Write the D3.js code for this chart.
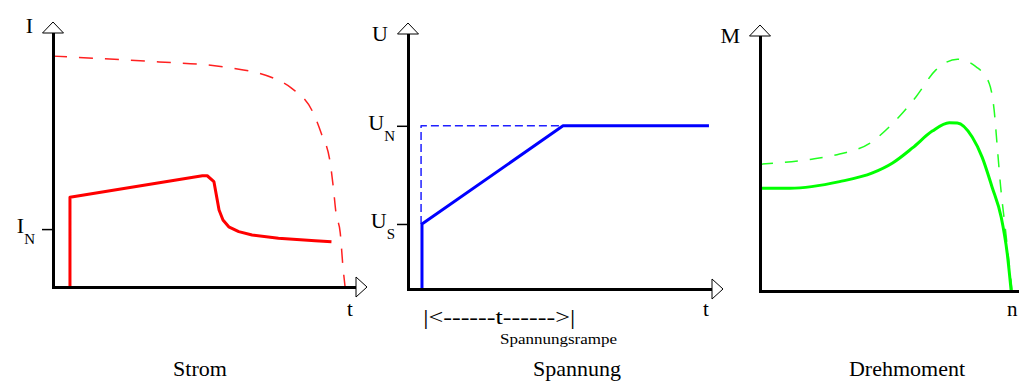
<!DOCTYPE html>
<html>
<head>
<meta charset="utf-8">
<script src="https://cdn.jsdelivr.net/npm/d3@7"></script>
<style>
  body { margin: 0; background: #fff; }
  text { font-family: "Liberation Serif", "Times New Roman", serif; fill: #000; }
</style>
</head>
<body>
<svg id="chart" width="1019" height="381"></svg>
<script>
// --- data (all panels use 0..100 on both axes) ---

// Strom: current with soft starter (solid) and direct start (dashed)
var stromSanft = [[5.6,0],[5.6,35.3],[49.3,43.8],[50.9,43.8],[53.1,41.5],[54.2,34.3],[54.8,30.3],
                  [56.1,26.4],[58,23.7],[61.3,21.8],[65.7,20.5],[74.4,19.2],[86.5,18.2],[91.9,17.8]];
var stromDirekt = [[0,90.9],[35,88.6],[54,87],[73.4,81.9],[78.7,78.3],[85.9,68.5],[88.5,60.6],
                   [91.5,48.8],[92.5,39.4],[93.4,29.1],[94.8,21.3],[95.7,7.9],[96.4,0]];
var stromTicks = [{v: 22.8, main: "I", sub: "N"}];

// Spannung: voltage ramp (solid) and direct (dashed)
var spannungRampe = [[4.6,0],[4.6,25.5],[51,64],[99,64]];
var spannungDirekt = [[4.3,25.5],[4.3,64],[51,64]];
var spannungTicks = [{v: 64, main: "U", sub: "N"}, {v: 25.5, main: "U", sub: "S"}];
var rampeVonBis = [5, 55];

// Drehmoment: torque over speed
var momentSanft = [[0,40.3],[11.5,40.3],[30.5,42.9],[43.1,46.3],[50.8,50.2],[58.4,56.1],[66,62.7],
                   [72.5,66],[75.6,65.9],[81.3,60.4],[85.1,52.5],[88.9,40.8],[92.4,29],[94.7,14.9],[96.2,0.4]];
var momentDirekt = [[0,49.7],[19.1,51.6],[30.5,53.7],[42,57.9],[50.9,65.8],[59.8,76.2],[67.4,86.7],
                    [75.7,90.9],[82.7,88],[87.8,81.5],[89.7,71],[91,55.3],[92.2,40.9],[94.2,22.6],[96.6,0]];
var momentTicks = [];

var titles = ["Strom", "Spannung", "Drehmoment"];

var svg = d3.select("#chart");

function panel(p) {
  var x = d3.scaleLinear().domain([0, 100]).range([p.x0, p.x1]);
  var y = d3.scaleLinear().domain([0, 100]).range([p.y0, p.y1]);
  var g = svg.append("g");

  // series
  p.series.forEach(function(s) {
    var line = d3.line()
      .x(function(d) { return x(d[0]); })
      .y(function(d) { return y(d[1]); })
      .curve(s.curve || d3.curveLinear);
    g.append("path")
      .datum(s.data)
      .attr("fill", "none")
      .attr("stroke", s.color)
      .attr("stroke-width", s.dashed ? 1.5 : 3)
      .attr("stroke-dasharray", s.dashed ? s.dash : null)
      .attr("stroke-linejoin", "round")
      .attr("d", line);
  });

  // y axis
  var ya = g.append("g")
    .attr("transform", "translate(" + p.x0 + ",0)")
    .call(d3.axisLeft(y).tickValues(p.ticks.map(function(t) { return t.v; }))
      .tickFormat("").tickSize(11).tickSizeOuter(0));
  ya.select(".domain").attr("stroke-width", 3).attr("stroke-linecap", "square");
  ya.selectAll(".tick line").attr("stroke-width", 1.5);

  // x axis
  var xa = g.append("g")
    .attr("transform", "translate(0," + p.y0 + ")")
    .call(d3.axisBottom(x).tickValues([]).tickSizeOuter(0));
  xa.select(".domain").attr("stroke-width", 3).attr("stroke-linecap", "square");

  // arrow heads
  g.append("path")
    .attr("d", "M" + (p.x0 - 10.5) + "," + p.y1 + "L" + (p.x0 + 10.5) + "," + p.y1 + "L" + p.x0 + "," + (p.y1 - 11) + "Z")
    .attr("fill", "#fff").attr("stroke", "#000").attr("stroke-width", 1);
  g.append("path")
    .attr("d", "M" + p.x1 + "," + (p.y0 - 10) + "L" + p.x1 + "," + (p.y0 + 10) + "L" + (p.x1 + 11) + "," + p.y0 + "Z")
    .attr("fill", "#fff").attr("stroke", "#000").attr("stroke-width", 1);

  // tick labels with subscripts
  p.ticks.forEach(function(t) {
    var tx = g.append("text")
      .attr("x", p.x0 - p.tickGap)
      .attr("y", y(t.v) + 4)
      .attr("text-anchor", "end")
      .style("font-size", "22px");
    tx.append("tspan").text(t.main);
    tx.append("tspan").attr("dy", 11).style("font-size", "15px").text(t.sub);
  });

  // axis names
  g.append("text")
    .attr("x", p.x0 - 20).attr("y", p.yNameY)
    .attr("text-anchor", "end")
    .style("font-size", "22px")
    .text(p.yName);
  g.append("text")
    .attr("x", p.x1 - p.xNameGap).attr("y", 316)
    .style("font-size", "21px")
    .text(p.xName);

  // title
  g.append("text")
    .attr("x", p.titleX).attr("y", 376)
    .attr("text-anchor", "middle")
    .style("font-size", "22px")
    .text(p.title);

  return {x: x, y: y, g: g};
}

panel({
  x0: 53, x1: 356, y0: 287, y1: 33, tickGap: 18, xNameGap: 9,
  yName: "I", yNameY: 33, xName: "t", title: titles[0], titleX: 200,
  ticks: stromTicks,
  series: [
    {data: stromDirekt, color: "#ff2020", dashed: true, dash: "14,12", curve: d3.curveMonotoneX},
    {data: stromSanft, color: "#ff0000"}
  ]
});

var p2 = panel({
  x0: 408, x1: 712, y0: 289, y1: 34, tickGap: 13, xNameGap: 9,
  yName: "U", yNameY: 41, xName: "t", title: titles[1], titleX: 577,
  ticks: spannungTicks,
  series: [
    {data: spannungDirekt, color: "#2020ff", dashed: true, dash: "8,4"},
    {data: spannungRampe, color: "#0000ff"}
  ]
});

// ramp annotation
p2.g.append("text")
  .attr("x", p2.x(rampeVonBis[0]))
  .attr("y", 324)
  .attr("textLength", p2.x(rampeVonBis[1]) - p2.x(rampeVonBis[0]))
  .attr("lengthAdjust", "spacingAndGlyphs")
  .style("font-size", "20px")
  .text("|<------t------>|");
p2.g.append("text")
  .attr("x", 500)
  .attr("y", 344)
  .attr("textLength", 117)
  .attr("lengthAdjust", "spacingAndGlyphs")
  .style("font-size", "14px")
  .text("Spannungsrampe");

panel({
  x0: 760, x1: 1021, y0: 291, y1: 36, tickGap: 13, xNameGap: 14,
  yName: "M", yNameY: 43, xName: "n", title: titles[2], titleX: 907,
  ticks: momentTicks,
  series: [
    {data: momentDirekt, color: "#20ff20", dashed: true, dash: "13,12", curve: d3.curveMonotoneX},
    {data: momentSanft, color: "#00ff00", curve: d3.curveMonotoneX}
  ]
});
</script>
</body>
</html>
